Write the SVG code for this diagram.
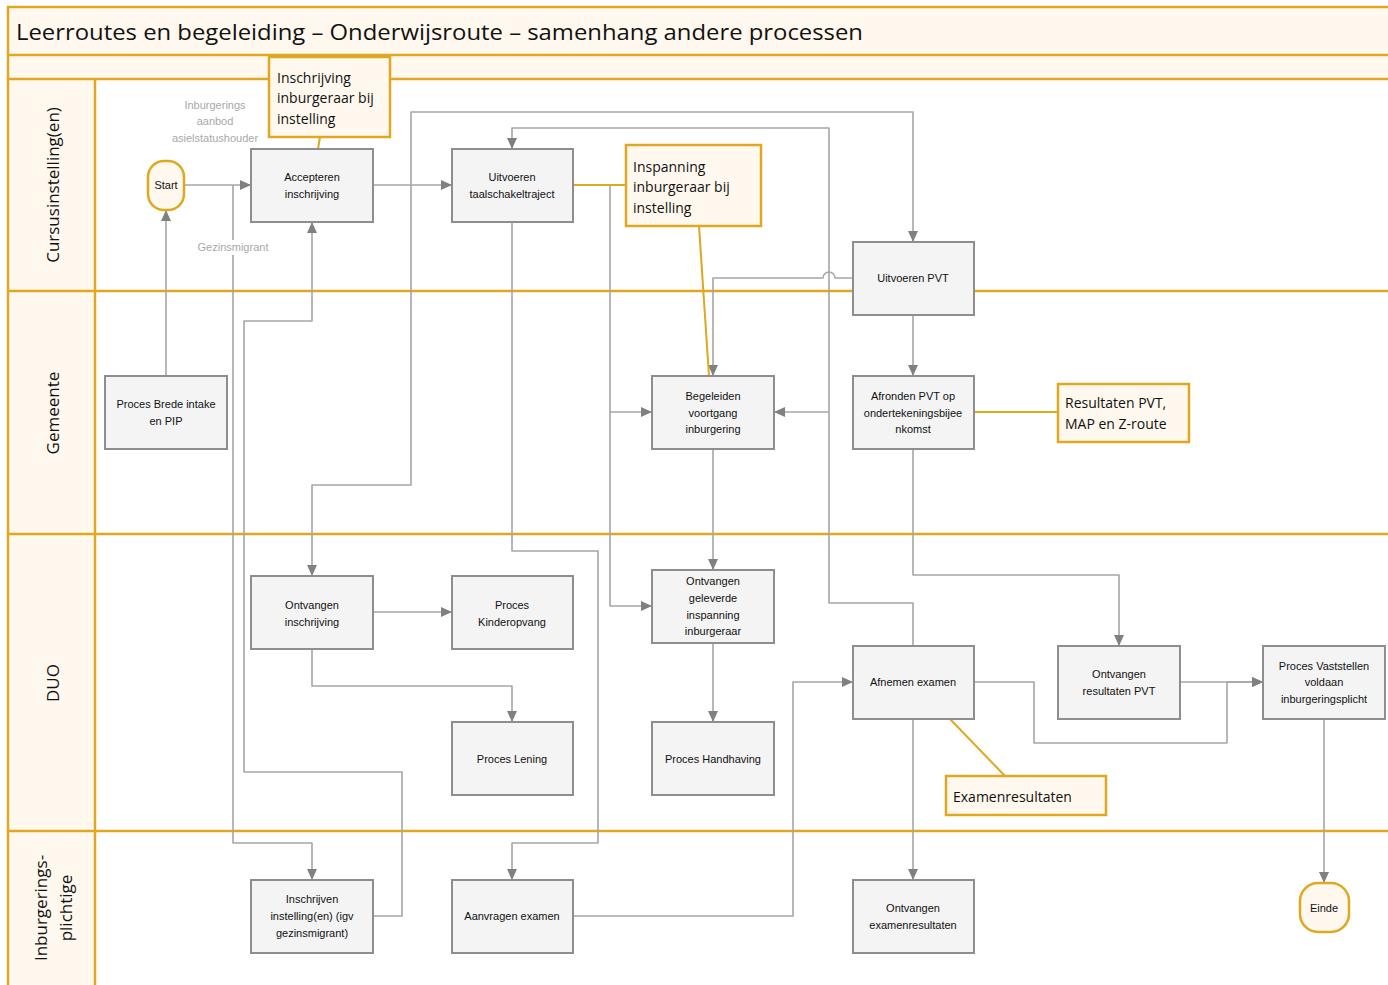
<svg xmlns="http://www.w3.org/2000/svg" width="1388" height="985" viewBox="0 0 1388 985">
<style>
.lane{fill:#FFF8EE;stroke:none}
.ol{stroke:#E0A820;stroke-width:2.5;fill:none}
.box{fill:#F4F4F4;stroke:#8E8E8E;stroke-width:2}
.ann{fill:#FFF8EE;stroke:#E0A820;stroke-width:2.5}
.term{fill:#FFF8EE;stroke:#E0A820;stroke-width:2.5}
.t{font-family:"Liberation Sans",Arial,sans-serif;font-size:11px;fill:#111;text-anchor:middle;dominant-baseline:central}
.at{font-family:"Open Sans","Liberation Sans",sans-serif;font-size:14px;fill:#111;dominant-baseline:central}
.gl{font-family:"Liberation Sans",Arial,sans-serif;font-size:11px;fill:#A8A8A8;text-anchor:middle;dominant-baseline:central}
.ll{font-family:"Open Sans","Liberation Sans",sans-serif;font-size:17px;fill:#111;text-anchor:middle;dominant-baseline:central}
.c{fill:none;stroke:#A6A6A6;stroke-width:1.6;stroke-linejoin:round}
.ca{fill:none;stroke:#A6A6A6;stroke-width:1.6;stroke-linejoin:round;marker-end:url(#arr)}
.oa{fill:none;stroke:#E0A820;stroke-width:2}
</style>
<defs>
<marker id="arr" markerUnits="userSpaceOnUse" markerWidth="12" markerHeight="12" viewBox="0 0 12 12" refX="11" refY="6" orient="auto">
<path d="M0,1 L11,6 L0,11 Z" fill="#808080"/>
</marker>
</defs>
<rect x="0" y="0" width="1388" height="985" fill="#FFFFFF"/>
<g id="frame">
<rect class="lane" x="8" y="7" width="1390" height="72"/>
<rect class="lane" x="8" y="79" width="87" height="910"/>
<rect class="ol" x="8" y="7" width="1392" height="990"/>
<line class="ol" x1="8" y1="55" x2="1388" y2="55"/>
<line class="ol" x1="8" y1="79" x2="1388" y2="79"/>
<line class="ol" x1="8" y1="291" x2="1388" y2="291"/>
<line class="ol" x1="8" y1="534" x2="1388" y2="534"/>
<line class="ol" x1="8" y1="831" x2="1388" y2="831"/>
<line class="ol" x1="95" y1="79" x2="95" y2="985"/>
<text x="16" y="31" font-family="Open Sans, Liberation Sans, sans-serif" font-size="22" fill="#111" dominant-baseline="central" textLength="847" lengthAdjust="spacingAndGlyphs">Leerroutes en begeleiding – Onderwijsroute – samenhang andere processen</text>
<text class="ll" transform="translate(52,185) rotate(-90)">Cursusinstelling(en)</text>
<text class="ll" transform="translate(52,413) rotate(-90)">Gemeente</text>
<text class="ll" transform="translate(52,683) rotate(-90)">DUO</text>
<text class="ll" transform="translate(40,908) rotate(-90)">Inburgerings-</text>
<text class="ll" transform="translate(65,908) rotate(-90)">plichtige</text>
</g>
<g id="connectors">
<path class="ca" d="M184,185 H251"/>
<path class="ca" d="M233,185 V843 H312 V880"/>
<path class="ca" d="M373,916 H402 V772 H244 V321 H312 V222"/>
<path class="ca" d="M166,376 V210"/>
<path class="ca" d="M373,185 H452"/>
<path class="ca" d="M411,185 V112 H913 V242"/>
<path class="ca" d="M411,185 V485 H312 V576"/>
<path class="ca" d="M913,646 V603 H829 V128 H512 V149"/>
<path class="ca" d="M829,412 H774"/>
<path class="ca" d="M512,222 V551 H598 V843 H512 V880"/>
<path class="ca" d="M573,185 H610 V412 H652"/>
<path class="ca" d="M610,412 V606 H652"/>
<path class="ca" d="M853,278 H835 A6,6 0 0 0 823,278 H713 V376"/>
<path class="ca" d="M913,315 V376"/>
<path class="ca" d="M913,449 V575 H1119 V646"/>
<path class="ca" d="M713,449 V570"/>
<path class="ca" d="M713,643 V722"/>
<path class="ca" d="M373,612 H452"/>
<path class="ca" d="M312,649 V686 H512 V722"/>
<path class="ca" d="M573,916 H793 V682 H853"/>
<path class="ca" d="M913,719 V880"/>
<path class="ca" d="M974,682 H1034 V743 H1227 V682 H1263"/>
<path class="ca" d="M1180,682 H1263"/>
<path class="ca" d="M1324,719 V883"/>
<path class="oa" d="M320,137 L318,149"/>
<path class="oa" d="M573,185 H626"/>
<path class="oa" d="M699,226 L709,376"/>
<path class="oa" d="M974,412 H1058"/>
<path class="oa" d="M950,719 L1005,776"/>
</g>
<g id="labels">
<text class="gl" x="215" y="105">Inburgerings</text>
<text class="gl" x="215" y="121">aanbod</text>
<text class="gl" x="215" y="138">asielstatushouder</text>
<rect x="192" y="240" width="82" height="15" fill="#FFFFFF"/>
<text class="gl" x="233" y="247">Gezinsmigrant</text>
</g>
<g id="start"><rect class="term" x="148" y="161" width="36" height="49" rx="16"/><text class="t" x="166" y="185">Start</text></g>
<g id="einde"><rect class="term" x="1300" y="883" width="49" height="49" rx="18"/><text class="t" x="1324" y="908" font-size="12">Einde</text></g>
<g id="accepteren"><rect class="box" x="251" y="149" width="122" height="73"/><text class="t" x="312" y="177">Accepteren</text><text class="t" x="312" y="194">inschrijving</text></g>
<g id="taalschakel"><rect class="box" x="452" y="149" width="121" height="73"/><text class="t" x="512" y="177">Uitvoeren</text><text class="t" x="512" y="194">taalschakeltraject</text></g>
<g id="pvt"><rect class="box" x="853" y="242" width="121" height="73"/><text class="t" x="913" y="278">Uitvoeren PVT</text></g>
<g id="brede"><rect class="box" x="105" y="376" width="122" height="73"/><text class="t" x="166" y="404">Proces Brede intake</text><text class="t" x="166" y="421">en PIP</text></g>
<g id="begeleiden"><rect class="box" x="652" y="376" width="122" height="73"/><text class="t" x="713" y="396">Begeleiden</text><text class="t" x="713" y="413">voortgang</text><text class="t" x="713" y="429">inburgering</text></g>
<g id="afronden"><rect class="box" x="853" y="376" width="121" height="73"/><text class="t" x="913" y="396">Afronden PVT op</text><text class="t" x="913" y="413">ondertekeningsbijee</text><text class="t" x="913" y="429">nkomst</text></g>
<g id="ontv-inschr"><rect class="box" x="251" y="576" width="122" height="73"/><text class="t" x="312" y="605">Ontvangen</text><text class="t" x="312" y="622">inschrijving</text></g>
<g id="kinderopvang"><rect class="box" x="452" y="576" width="121" height="73"/><text class="t" x="512" y="605">Proces</text><text class="t" x="512" y="622">Kinderopvang</text></g>
<g id="ontv-insp"><rect class="box" x="652" y="570" width="122" height="73"/><text class="t" x="713" y="581">Ontvangen</text><text class="t" x="713" y="598">geleverde</text><text class="t" x="713" y="615">inspanning</text><text class="t" x="713" y="631">inburgeraar</text></g>
<g id="lening"><rect class="box" x="452" y="722" width="121" height="73"/><text class="t" x="512" y="759">Proces Lening</text></g>
<g id="handhaving"><rect class="box" x="652" y="722" width="122" height="73"/><text class="t" x="713" y="759">Proces Handhaving</text></g>
<g id="afnemen"><rect class="box" x="853" y="646" width="121" height="73"/><text class="t" x="913" y="682">Afnemen examen</text></g>
<g id="ontv-pvt"><rect class="box" x="1058" y="646" width="122" height="73"/><text class="t" x="1119" y="674">Ontvangen</text><text class="t" x="1119" y="691">resultaten PVT</text></g>
<g id="vaststellen"><rect class="box" x="1263" y="646" width="122" height="73"/><text class="t" x="1324" y="666">Proces Vaststellen</text><text class="t" x="1324" y="682">voldaan</text><text class="t" x="1324" y="699">inburgeringsplicht</text></g>
<g id="inschrijven"><rect class="box" x="251" y="880" width="122" height="73"/><text class="t" x="312" y="899">Inschrijven</text><text class="t" x="312" y="916">instelling(en) (igv</text><text class="t" x="312" y="933">gezinsmigrant)</text></g>
<g id="aanvragen"><rect class="box" x="452" y="880" width="121" height="73"/><text class="t" x="512" y="916">Aanvragen examen</text></g>
<g id="ontv-exres"><rect class="box" x="853" y="880" width="121" height="73"/><text class="t" x="913" y="908">Ontvangen</text><text class="t" x="913" y="925">examenresultaten</text></g>
<g id="ann-inschrijving"><rect class="ann" x="269" y="57" width="121" height="80"/><text class="at" x="277" y="77">Inschrijving</text><text class="at" x="277" y="97">inburgeraar bij</text><text class="at" x="277" y="118">instelling</text></g>
<g id="ann-inspanning"><rect class="ann" x="626" y="145" width="135" height="81"/><text class="at" x="633" y="166">Inspanning</text><text class="at" x="633" y="186">inburgeraar bij</text><text class="at" x="633" y="207">instelling</text></g>
<g id="ann-resultaten"><rect class="ann" x="1058" y="384" width="131" height="58"/><text class="at" x="1065" y="402">Resultaten PVT,</text><text class="at" x="1065" y="423">MAP en Z-route</text></g>
<g id="ann-examen"><rect class="ann" x="946" y="776" width="160" height="39"/><text class="at" x="953" y="796">Examenresultaten</text></g>
</svg>
